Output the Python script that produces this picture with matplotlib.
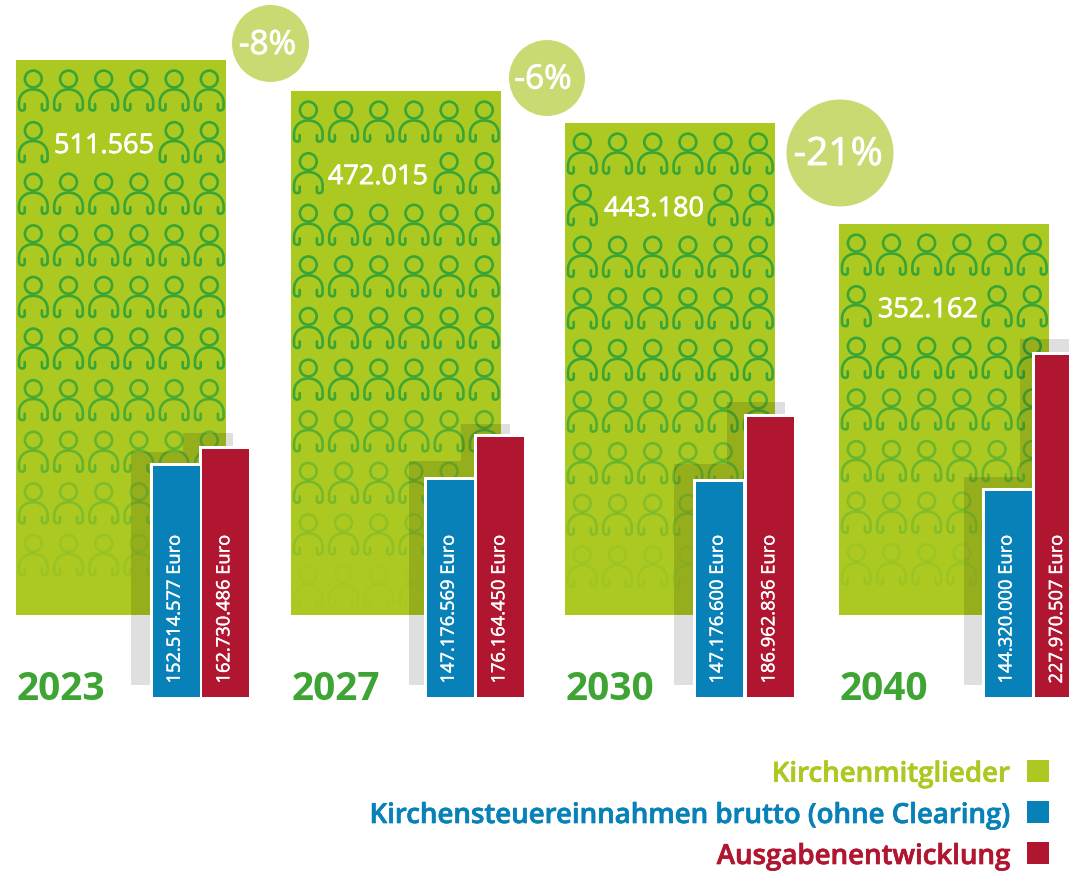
import matplotlib
matplotlib.use("Agg")
import matplotlib.pyplot as plt
import matplotlib.patheffects as pe
from matplotlib.patches import Circle, PathPatch, Rectangle
from matplotlib.path import Path

# ---- data ----
years = ["2023", "2027", "2030", "2040"]
members = [511565, 472015, 443180, 352162]
members_labels = ["511.565", "472.015", "443.180", "352.162"]
# bar lengths as drawn, in members (the first bar is drawn shorter than its label)
members_drawn = [500000, 472015, 443180, 352162]
income_labels = ["152.514.577 Euro", "147.176.569 Euro", "147.176.600 Euro", "144.320.000 Euro"]
spend_labels = ["162.730.486 Euro", "176.164.450 Euro", "186.962.836 Euro", "227.970.507 Euro"]
# bar lengths as drawn, in million Euro
income_drawn = [153.8, 144.7, 143.3, 137.3]
spend_drawn = [165.3, 173.3, 186.7, 228.0]
change_labels = ["-8%", "-6%", "-21%"]
legend_labels = ["Kirchenmitglieder", "Kirchensteuereinnahmen brutto (ohne Clearing)", "Ausgabenentwicklung"]

# ---- layout ----
W, H = 1069, 875
GREEN, BLUE, RED = "#abc921", "#0781b8", "#b01630"
ICON, YEARC, BUBBLE = "#3aa535", "#3ea535", "#c9da73"
plt.rcParams["font.family"] = ["Open Sans", "DejaVu Sans"]

member_left = [16, 291, 565, 839]
member_width = 210
member_base = 615
px_per_member = 0.00111
euro_base = 697
px_per_meuro = 1.5
income_left = [152.7, 426.7, 695.7, 984.5]
spend_left = [202.3, 477.3, 747.3, 1035]
euro_width = 47
border = 3
shadow_left = [131, 409, 674, 964]
shadow_mid = [183, 461, 727, 1020]
shadow_right = [233, 510, 785, 1085]
shadow_lift = [14, 19, 18, 14]
spend_lift = [16, 13, 15, 16]
label_x = [104, 378, 654, 928]
bubbles = [(270.5, 43.5, 38.5, 267.5, 24), (547, 78, 38, 543, 24), (840, 153, 53.5, 838, 28)]

fig = plt.figure(figsize=(W / 100, H / 100), dpi=100, facecolor="white")


def make_axes(zorder, base=None, scale=None):
    ax = fig.add_axes([0, 0, 1, 1], zorder=zorder)
    ax.set_xlim(0, W)
    if base is None:
        ax.set_ylim(H, 0)
    else:
        ax.set_ylim((base - H) / scale, base / scale)
    ax.axis("off")
    ax.patch.set_alpha(0)
    return ax


ax_m = make_axes(1, member_base, px_per_member)
ax_p = make_axes(2)          # icons and shadows in pixel positions
ax_e = make_axes(3, euro_base, px_per_meuro)
ax_t = make_axes(4)


def heavy(width, color):
    return [pe.withStroke(linewidth=width, foreground=color)]


# members bars
ax_m.bar(member_left, members_drawn, width=member_width, align="edge", color=GREEN, linewidth=0)

# person icon, relative to the head centre
BODY_V = [(-8.6, 25), (-8.6, 29.5), (-8.6, 31.5), (-10.6, 31.5), (-14.3, 31.5), (-14.3, 28), (-14.3, 24),
          (-14.3, 16), (-8.5, 10.4), (0, 10.4), (8.5, 10.4), (14.3, 16), (14.3, 24),
          (14.3, 28), (14.3, 31.5), (10.6, 31.5), (8.6, 31.5), (8.6, 29.5), (8.6, 25)]
BODY_C = [Path.MOVETO, Path.LINETO, Path.CURVE3, Path.CURVE3, Path.CURVE3, Path.CURVE3, Path.LINETO,
          Path.CURVE4, Path.CURVE4, Path.CURVE4, Path.CURVE4, Path.CURVE4, Path.CURVE4,
          Path.LINETO, Path.CURVE3, Path.CURVE3, Path.CURVE3, Path.CURVE3, Path.LINETO]


def person(cx, cy, alpha):
    kw = dict(fill=False, edgecolor=ICON, linewidth=1.9, alpha=alpha)
    ax_p.add_patch(Circle((cx, cy), 8.4, **kw))
    ax_p.add_patch(PathPatch(Path([(cx + x, cy + y) for x, y in BODY_V], BODY_C), capstyle="round",
                             joinstyle="round", **kw))


def icon_alpha(cy):
    a = (590 - cy) / 230
    return max(0.0, min(1.0, a)) ** 1.2


for g, left in enumerate(member_left):
    top = member_base - members_drawn[g] * px_per_member
    for r in range(11):
        cy = top + 19 + 51.6 * r
        if cy > member_base - 22:
            continue
        a = icon_alpha(cy)
        if a <= 0.02:
            continue
        for c in range(6):
            if r == 1 and c in (1, 2, 3):
                continue
            person(left + 17.3 + 35.2 * c, cy, a)
    ax_t.text(label_x[g], top + 93, members_labels[g], ha="center", va="baseline",
              color="white", fontsize=19.5, path_effects=heavy(0.5, "white"))
    ax_t.text(left + 1, 700, years[g], ha="left", va="baseline", color=YEARC,
              fontsize=28, fontweight="bold")

# shadows
for g in range(4):
    inc_top = euro_base - income_drawn[g] * px_per_meuro
    sp_top = euro_base - spend_drawn[g] * px_per_meuro
    for x0, x1, y0 in [(shadow_left[g], shadow_mid[g], inc_top - shadow_lift[g]),
                       (shadow_mid[g], shadow_right[g], sp_top - spend_lift[g])]:
        ax_p.add_patch(Rectangle((x0, y0), x1 - x0, 685 - y0, facecolor="black", alpha=0.125, linewidth=0))

# euro bars: white underlay, then the colour
pad = border / px_per_meuro
for lefts, vals in [(income_left, income_drawn), (spend_left, spend_drawn)]:
    ax_e.bar([x - border for x in lefts], [v + pad for v in vals], width=euro_width + 2 * border,
             align="edge", color="white", linewidth=0)
for lefts, vals, col in [(income_left, income_drawn, BLUE), (spend_left, spend_drawn, RED)]:
    ax_e.bar(lefts, vals, width=euro_width, align="edge", color=col, linewidth=0)

for g in range(4):
    for left, txt in [(income_left[g], income_labels[g]), (spend_left[g], spend_labels[g])]:
        ax_t.text(left + euro_width / 2 - 1.5, 683.5, txt, rotation=90, ha="center", va="bottom",
                  color="white", fontsize=13.2, clip_on=True, path_effects=heavy(0.3, "white"))

# change bubbles
for (cx, cy, r, tx, fs), txt in zip(bubbles, change_labels):
    ax_t.add_patch(Circle((cx, cy), r, facecolor=BUBBLE, edgecolor="none"))
    ax_t.text(tx, cy + 2, txt, ha="center", va="center", color="white", fontsize=fs,
              path_effects=heavy(0.6, "white"))

# legend
for txt, col, base in zip(legend_labels, [GREEN, BLUE, RED], [781.7, 823, 864]):
    ax_t.text(1010, base, txt, ha="right", va="baseline", color=col, fontsize=19.9,
              fontweight="semibold", path_effects=heavy(0.5, col))
    ax_t.add_patch(Rectangle((1027, base - 21.7), 22, 22, facecolor=col, linewidth=0))

fig.savefig("out.png", dpi=100, facecolor="white")
